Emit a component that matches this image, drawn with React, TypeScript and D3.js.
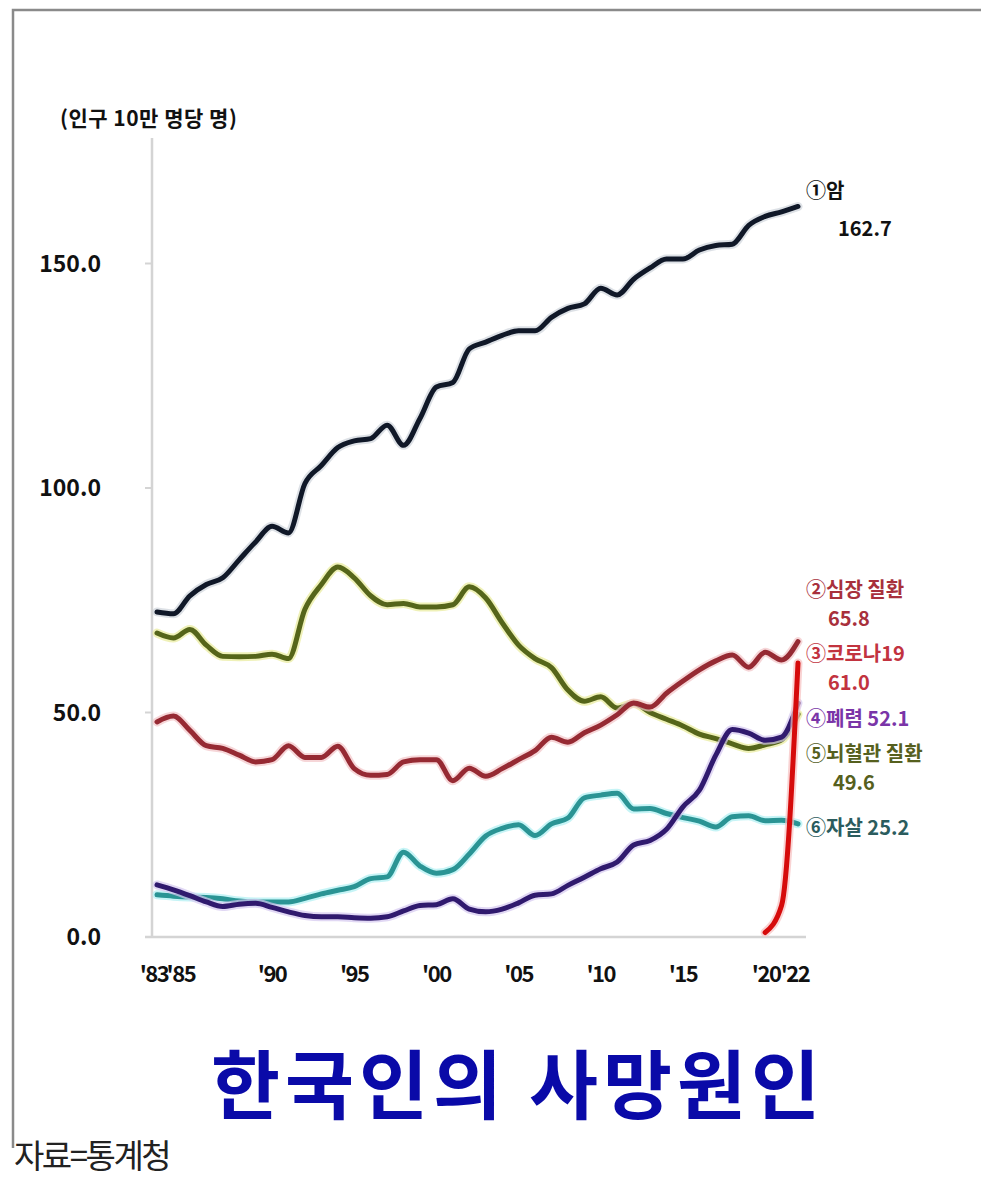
import * as d3 from "d3";

const years = d3.range(1983, 2023);
const xTicks = [1983, 1985, 1990, 1995, 2000, 2005, 2010, 2015, 2020, 2022];
const yTicks = [0, 50, 100, 150];

const cancer = [72.4, 72.0, 76, 78.5, 80, 84, 88, 91.5, 90, 101, 105, 109, 110.5, 111, 114, 109.5, 115.5, 122.5, 123.5, 131, 132.5, 134, 135, 135, 138, 140, 141, 144.5, 143, 146.5, 149, 151, 151, 153, 154, 154.3, 158.5, 160.5, 161.5, 162.7];
const heart = [47.9, 49.2, 46, 42.6, 42, 40.5, 39, 39.5, 42.6, 40, 40, 42.5, 37.5, 36, 36.2, 39, 39.5, 39.5, 34.8, 37.6, 35.8, 37.5, 39.5, 41.5, 44.5, 43.4, 45.5, 47.2, 49.5, 52.1, 51.2, 54.3, 57, 59.5, 61.5, 62.8, 60.1, 63.4, 61.7, 65.8];
const cerebro = [67.7, 66.6, 68.5, 65, 62.5, 62.4, 62.5, 63, 62, 73, 78.5, 82.4, 80, 76, 74, 74.3, 73.5, 73.5, 74, 78, 75.5, 70, 65, 62, 60, 55, 52.5, 53.5, 51, 52, 50, 48.5, 47, 45.2, 44.2, 43, 42, 42.8, 43.9, 49.6];
const suicide = [9.4, 9.1, 8.9, 8.8, 8.5, 8.0, 7.8, 7.8, 7.8, 8.6, 9.6, 10.4, 11.2, 13.0, 13.4, 18.9, 15.8, 14.2, 15.0, 18.5, 22.5, 24.2, 25.0, 22.6, 25.2, 26.5, 31.0, 31.6, 32.0, 28.5, 28.6, 27.5, 26.6, 25.8, 24.5, 26.8, 27.0, 25.9, 26.0, 25.2];
const pneumonia = [11.6, 10.5, 9.2, 7.8, 6.8, 7.3, 7.5, 6.6, 5.6, 4.8, 4.5, 4.5, 4.3, 4.2, 4.5, 5.8, 7.0, 7.2, 8.5, 6.2, 5.6, 6.2, 7.6, 9.3, 9.6, 11.5, 13.3, 15.2, 16.7, 20.5, 21.5, 24.0, 29.0, 32.7, 40.5, 46.2, 45.4, 43.8, 44.5, 52.1];
const covidYears = [2020, 2021, 2022];
const covid = [1.0, 7.0, 61.0];

const series = [
  { name: "뇌혈관 질환", xs: years, ys: cerebro, color: "#55651a", halo: "#e8eb9a" },
  { name: "심장 질환", xs: years, ys: heart, color: "#962a33", halo: "#f2c4c8" },
  { name: "자살", xs: years, ys: suicide, color: "#2a9494", halo: "#aef0f2" },
  { name: "폐렴", xs: years, ys: pneumonia, color: "#301a6e", halo: "#d4c8f0" },
  { name: "암", xs: years, ys: cancer, color: "#101828", halo: "#cfd4dc" },
  { name: "코로나19", xs: covidYears, ys: covid, color: "#d60b0b", halo: "#f7c0c0" },
];

// right-hand annotations: first line, second line, colour, baseline, x of second line
const notes: [string, string, string, number, number][] = [
  ["①암", "162.7", "#111111", 198, 838],
  ["②심장 질환", "65.8", "#a8303c", 597, 828],
  ["③코로나19", "61.0", "#c2333f", 661, 828],
  ["④폐렴  52.1", "", "#7a35a8", 726, 0],
  ["⑤뇌혈관 질환", "49.6", "#56601e", 761, 833],
  ["⑥자살 25.2", "", "#2b5c5e", 835, 0],
];

const font = "'Noto Sans CJK KR', 'Noto Sans', sans-serif";

export default function App() {
  const width = 981;
  const height = 1178;
  const x = d3.scaleLinear([1983, 2022], [157, 798]);
  const y = d3.scaleLinear([0, 150], [937, 263.5]);
  const line = d3.line<number>().curve(d3.curveMonotoneX);

  const shift: Record<number, number> = { 1983: -3, 1985: -9, 2020: 1, 2022: -3 };

  return (
    <svg width={width} height={height} style={{ position: "absolute", left: 0, top: 0, background: "#fff" }} fontFamily={font}>
      {/* frame */}
      <path d="M13,1148 V10 H981" fill="none" stroke="#8a8a8a" strokeWidth={2.5} />

      {/* axes */}
      <line x1={152} x2={152} y1={138} y2={y(0)} stroke="#d4d4d4" strokeWidth={2.5} />
      <line x1={145} x2={806} y1={y(0)} y2={y(0)} stroke="#d4d4d4" strokeWidth={2.5} />
      {yTicks.map((t) => (
        <g key={t}>
          <line x1={145} x2={152} y1={y(t)} y2={y(t)} stroke="#d4d4d4" strokeWidth={2} />
          <text x={101} y={y(t)} dy="0.36em" textAnchor="end" fontSize={23} fontWeight={700} fill="#111">
            {t.toFixed(1)}
          </text>
        </g>
      ))}
      {xTicks.map((t) => (
        <text key={t} x={x(t) + (shift[t] || 0)} y={982} textAnchor="middle" fontSize={22} fontWeight={700} fill="#111" letterSpacing={-1.5}>
          {"'" + String(t).slice(2)}
        </text>
      ))}
      <text x={60} y={126} fontSize={21} fontWeight={700} fill="#111" letterSpacing={0.5}>
        (인구 10만 명당 명)
      </text>

      {/* lines */}
      {series.map((s) => {
        const d = line.x((_, i) => x(s.xs[i])).y((v) => y(v))(s.ys) as string;
        return (
          <g key={s.name}>
            <path d={d} fill="none" stroke={s.halo} strokeWidth={9} strokeLinejoin="round" strokeLinecap="round" opacity={0.7} />
            <path d={d} fill="none" stroke={s.color} strokeWidth={5} strokeLinejoin="round" strokeLinecap="round" />
          </g>
        );
      })}

      {/* annotations */}
      {notes.map(([a, b, c, ty, bx]) => (
        <g key={a} fill={c} fontSize={20} fontWeight={700}>
          <text x={806} y={ty}>{a}</text>
          {b && (
            <text x={bx} y={ty + (a.startsWith("①") ? 38 : 29)}>
              {b}
            </text>
          )}
        </g>
      ))}

      {/* title and source */}
      <text x={518} y={1113} textAnchor="middle" fontSize={75} fontWeight={700} fill="#0a0aa8" letterSpacing={5}>
        한국인의 사망원인
      </text>
      <text x={14} y={1168} fontSize={33} fontWeight={400} fill="#222" letterSpacing={-2.5}>
        자료=통계청
      </text>
    </svg>
  );
}
